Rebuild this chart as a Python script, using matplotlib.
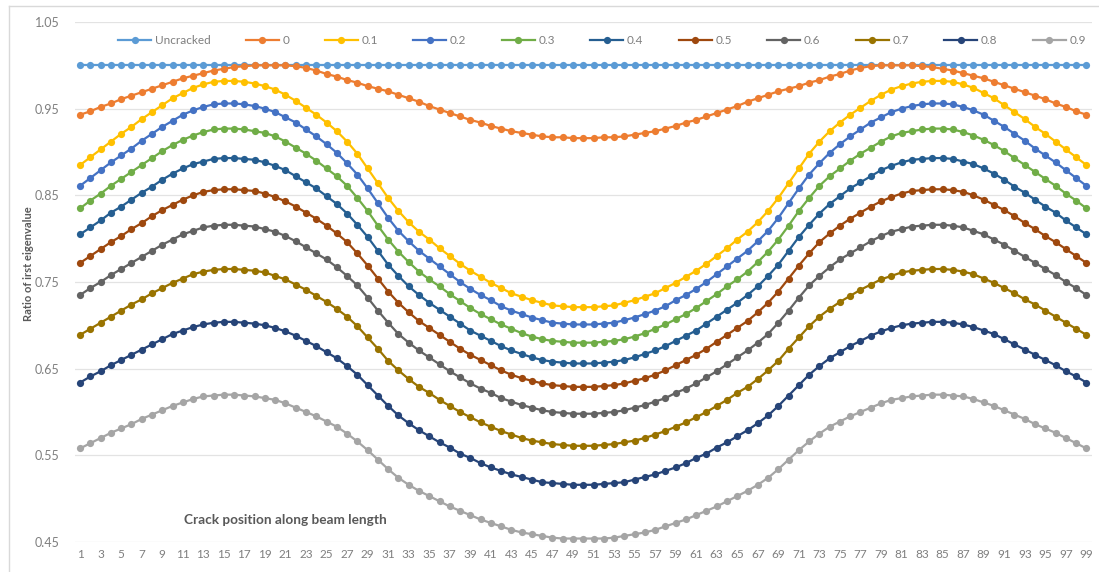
import matplotlib.pyplot as plt
from matplotlib.lines import Line2D

# ---- data ----
positions = list(range(1, 100))
tick_positions = list(range(1, 100, 2))
y_ticks = [0.45, 0.55, 0.65, 0.75, 0.85, 0.95, 1.05]

uncracked = [
    1.000, 1.000, 1.000, 1.000, 1.000, 1.000, 1.000, 1.000, 1.000, 1.000,
    1.000, 1.000, 1.000, 1.000, 1.000, 1.000, 1.000, 1.000, 1.000, 1.000,
    1.000, 1.000, 1.000, 1.000, 1.000, 1.000, 1.000, 1.000, 1.000, 1.000,
    1.000, 1.000, 1.000, 1.000, 1.000, 1.000, 1.000, 1.000, 1.000, 1.000,
    1.000, 1.000, 1.000, 1.000, 1.000, 1.000, 1.000, 1.000, 1.000, 1.000,
    1.000, 1.000, 1.000, 1.000, 1.000, 1.000, 1.000, 1.000, 1.000, 1.000,
    1.000, 1.000, 1.000, 1.000, 1.000, 1.000, 1.000, 1.000, 1.000, 1.000,
    1.000, 1.000, 1.000, 1.000, 1.000, 1.000, 1.000, 1.000, 1.000, 1.000,
    1.000, 1.000, 1.000, 1.000, 1.000, 1.000, 1.000, 1.000, 1.000, 1.000,
    1.000, 1.000, 1.000, 1.000, 1.000, 1.000, 1.000, 1.000, 1.000,
]

depth_00 = [
    0.943, 0.947, 0.952, 0.956, 0.961, 0.965, 0.969, 0.973, 0.977, 0.981,
    0.985, 0.988, 0.991, 0.994, 0.996, 0.998, 0.999, 1.000, 1.000, 1.000,
    1.000, 0.999, 0.997, 0.994, 0.990, 0.987, 0.983, 0.980, 0.976, 0.973,
    0.970, 0.966, 0.962, 0.958, 0.953, 0.949, 0.945, 0.941, 0.937, 0.934,
    0.930, 0.927, 0.924, 0.922, 0.920, 0.918, 0.917, 0.917, 0.916, 0.916,
    0.916, 0.917, 0.917, 0.918, 0.920, 0.922, 0.924, 0.927, 0.930, 0.934,
    0.937, 0.941, 0.945, 0.949, 0.953, 0.958, 0.962, 0.966, 0.970, 0.973,
    0.976, 0.980, 0.983, 0.987, 0.990, 0.994, 0.997, 0.999, 1.000, 1.000,
    1.000, 1.000, 0.999, 0.998, 0.996, 0.994, 0.991, 0.988, 0.985, 0.981,
    0.977, 0.973, 0.969, 0.965, 0.961, 0.956, 0.952, 0.947, 0.943,
]

depth_01 = [
    0.885, 0.894, 0.903, 0.912, 0.921, 0.929, 0.938, 0.946, 0.954, 0.962,
    0.968, 0.974, 0.978, 0.981, 0.982, 0.982, 0.981, 0.979, 0.976, 0.972,
    0.966, 0.959, 0.951, 0.943, 0.934, 0.924, 0.912, 0.898, 0.881, 0.864,
    0.847, 0.832, 0.819, 0.808, 0.799, 0.789, 0.780, 0.771, 0.763, 0.756,
    0.749, 0.743, 0.737, 0.733, 0.729, 0.726, 0.723, 0.722, 0.721, 0.721,
    0.721, 0.722, 0.723, 0.726, 0.729, 0.733, 0.737, 0.743, 0.749, 0.756,
    0.763, 0.771, 0.780, 0.789, 0.799, 0.808, 0.819, 0.832, 0.847, 0.864,
    0.881, 0.898, 0.912, 0.924, 0.934, 0.943, 0.951, 0.959, 0.966, 0.972,
    0.976, 0.979, 0.981, 0.982, 0.982, 0.981, 0.978, 0.974, 0.968, 0.962,
    0.954, 0.946, 0.938, 0.929, 0.921, 0.912, 0.903, 0.894, 0.885,
]

depth_02 = [
    0.861, 0.870, 0.879, 0.888, 0.896, 0.904, 0.913, 0.921, 0.929, 0.936,
    0.943, 0.948, 0.952, 0.955, 0.956, 0.956, 0.955, 0.953, 0.950, 0.946,
    0.940, 0.934, 0.926, 0.918, 0.909, 0.899, 0.887, 0.874, 0.858, 0.841,
    0.824, 0.809, 0.797, 0.786, 0.777, 0.768, 0.759, 0.750, 0.742, 0.735,
    0.729, 0.722, 0.717, 0.713, 0.709, 0.706, 0.703, 0.702, 0.701, 0.701,
    0.701, 0.702, 0.703, 0.706, 0.709, 0.713, 0.717, 0.722, 0.729, 0.735,
    0.742, 0.750, 0.759, 0.768, 0.777, 0.786, 0.797, 0.809, 0.824, 0.841,
    0.858, 0.874, 0.887, 0.899, 0.909, 0.918, 0.926, 0.934, 0.940, 0.946,
    0.950, 0.953, 0.955, 0.956, 0.956, 0.955, 0.952, 0.948, 0.943, 0.936,
    0.929, 0.921, 0.913, 0.904, 0.896, 0.888, 0.879, 0.870, 0.861,
]

depth_03 = [
    0.835, 0.844, 0.852, 0.861, 0.869, 0.877, 0.885, 0.893, 0.901, 0.908,
    0.914, 0.919, 0.923, 0.926, 0.927, 0.927, 0.926, 0.924, 0.922, 0.918,
    0.912, 0.905, 0.898, 0.890, 0.881, 0.872, 0.861, 0.847, 0.832, 0.815,
    0.799, 0.785, 0.773, 0.762, 0.753, 0.745, 0.736, 0.728, 0.720, 0.713,
    0.707, 0.701, 0.696, 0.691, 0.687, 0.684, 0.682, 0.681, 0.680, 0.680,
    0.680, 0.681, 0.682, 0.684, 0.687, 0.691, 0.696, 0.701, 0.707, 0.713,
    0.720, 0.728, 0.736, 0.745, 0.753, 0.762, 0.773, 0.785, 0.799, 0.815,
    0.832, 0.847, 0.861, 0.872, 0.881, 0.890, 0.898, 0.905, 0.912, 0.918,
    0.922, 0.924, 0.926, 0.927, 0.927, 0.926, 0.923, 0.919, 0.914, 0.908,
    0.901, 0.893, 0.885, 0.877, 0.869, 0.861, 0.852, 0.844, 0.835,
]

depth_04 = [
    0.805, 0.813, 0.821, 0.830, 0.837, 0.845, 0.853, 0.860, 0.868, 0.875,
    0.881, 0.886, 0.889, 0.892, 0.893, 0.893, 0.892, 0.891, 0.888, 0.884,
    0.879, 0.872, 0.865, 0.858, 0.849, 0.840, 0.829, 0.816, 0.802, 0.786,
    0.770, 0.757, 0.745, 0.735, 0.726, 0.718, 0.710, 0.702, 0.694, 0.688,
    0.682, 0.676, 0.671, 0.667, 0.663, 0.660, 0.658, 0.657, 0.656, 0.656,
    0.656, 0.657, 0.658, 0.660, 0.663, 0.667, 0.671, 0.676, 0.682, 0.688,
    0.694, 0.702, 0.710, 0.718, 0.726, 0.735, 0.745, 0.757, 0.770, 0.786,
    0.802, 0.816, 0.829, 0.840, 0.849, 0.858, 0.865, 0.872, 0.879, 0.884,
    0.888, 0.891, 0.892, 0.893, 0.893, 0.892, 0.889, 0.886, 0.881, 0.875,
    0.868, 0.860, 0.853, 0.845, 0.837, 0.830, 0.821, 0.813, 0.805,
]

depth_05 = [
    0.772, 0.780, 0.788, 0.796, 0.803, 0.811, 0.818, 0.826, 0.833, 0.839,
    0.845, 0.850, 0.854, 0.856, 0.857, 0.857, 0.856, 0.855, 0.852, 0.848,
    0.843, 0.837, 0.830, 0.823, 0.815, 0.806, 0.796, 0.783, 0.769, 0.754,
    0.739, 0.726, 0.715, 0.705, 0.697, 0.689, 0.681, 0.673, 0.666, 0.660,
    0.654, 0.648, 0.643, 0.639, 0.636, 0.633, 0.631, 0.630, 0.629, 0.629,
    0.629, 0.630, 0.631, 0.633, 0.636, 0.639, 0.643, 0.648, 0.654, 0.660,
    0.666, 0.673, 0.681, 0.689, 0.697, 0.705, 0.715, 0.726, 0.739, 0.754,
    0.769, 0.783, 0.796, 0.806, 0.815, 0.823, 0.830, 0.837, 0.843, 0.848,
    0.852, 0.855, 0.856, 0.857, 0.857, 0.856, 0.854, 0.850, 0.845, 0.839,
    0.833, 0.826, 0.818, 0.811, 0.803, 0.796, 0.788, 0.780, 0.772,
]

depth_06 = [
    0.735, 0.743, 0.750, 0.758, 0.765, 0.772, 0.779, 0.786, 0.793, 0.799,
    0.805, 0.809, 0.813, 0.815, 0.816, 0.816, 0.815, 0.814, 0.811, 0.808,
    0.803, 0.797, 0.790, 0.783, 0.776, 0.767, 0.757, 0.746, 0.732, 0.717,
    0.703, 0.690, 0.680, 0.671, 0.663, 0.655, 0.647, 0.640, 0.633, 0.627,
    0.622, 0.616, 0.612, 0.608, 0.605, 0.602, 0.600, 0.599, 0.598, 0.598,
    0.598, 0.599, 0.600, 0.602, 0.605, 0.608, 0.612, 0.616, 0.622, 0.627,
    0.633, 0.640, 0.647, 0.655, 0.663, 0.671, 0.680, 0.690, 0.703, 0.717,
    0.732, 0.746, 0.757, 0.767, 0.776, 0.783, 0.790, 0.797, 0.803, 0.808,
    0.811, 0.814, 0.815, 0.816, 0.816, 0.815, 0.813, 0.809, 0.805, 0.799,
    0.793, 0.786, 0.779, 0.772, 0.765, 0.758, 0.750, 0.743, 0.735,
]

depth_07 = [
    0.689, 0.696, 0.703, 0.710, 0.717, 0.724, 0.730, 0.737, 0.743, 0.749,
    0.754, 0.759, 0.762, 0.764, 0.765, 0.765, 0.764, 0.763, 0.761, 0.757,
    0.753, 0.747, 0.741, 0.734, 0.727, 0.719, 0.710, 0.699, 0.686, 0.673,
    0.659, 0.648, 0.638, 0.629, 0.622, 0.614, 0.607, 0.600, 0.594, 0.588,
    0.583, 0.578, 0.574, 0.570, 0.567, 0.565, 0.563, 0.562, 0.561, 0.561,
    0.561, 0.562, 0.563, 0.565, 0.567, 0.570, 0.574, 0.578, 0.583, 0.588,
    0.594, 0.600, 0.607, 0.614, 0.622, 0.629, 0.638, 0.648, 0.659, 0.673,
    0.686, 0.699, 0.710, 0.719, 0.727, 0.734, 0.741, 0.747, 0.753, 0.757,
    0.761, 0.763, 0.764, 0.765, 0.765, 0.764, 0.762, 0.759, 0.754, 0.749,
    0.743, 0.737, 0.730, 0.724, 0.717, 0.710, 0.703, 0.696, 0.689,
]

depth_08 = [
    0.634, 0.641, 0.647, 0.654, 0.660, 0.666, 0.672, 0.678, 0.684, 0.690,
    0.694, 0.698, 0.701, 0.703, 0.704, 0.704, 0.703, 0.702, 0.700, 0.697,
    0.693, 0.688, 0.682, 0.676, 0.669, 0.662, 0.653, 0.643, 0.631, 0.619,
    0.607, 0.596, 0.587, 0.579, 0.572, 0.565, 0.559, 0.552, 0.547, 0.541,
    0.536, 0.532, 0.528, 0.525, 0.522, 0.519, 0.518, 0.517, 0.516, 0.516,
    0.516, 0.517, 0.518, 0.519, 0.522, 0.525, 0.528, 0.532, 0.536, 0.541,
    0.547, 0.552, 0.559, 0.565, 0.572, 0.579, 0.587, 0.596, 0.607, 0.619,
    0.631, 0.643, 0.653, 0.662, 0.669, 0.676, 0.682, 0.688, 0.693, 0.697,
    0.700, 0.702, 0.703, 0.704, 0.704, 0.703, 0.701, 0.698, 0.694, 0.690,
    0.684, 0.678, 0.672, 0.666, 0.660, 0.654, 0.647, 0.641, 0.634,
]

depth_09 = [
    0.558, 0.564, 0.570, 0.576, 0.581, 0.586, 0.592, 0.597, 0.602, 0.607,
    0.611, 0.615, 0.618, 0.619, 0.620, 0.620, 0.619, 0.618, 0.616, 0.614,
    0.610, 0.605, 0.600, 0.595, 0.589, 0.583, 0.575, 0.566, 0.556, 0.545,
    0.534, 0.524, 0.516, 0.509, 0.503, 0.497, 0.491, 0.486, 0.481, 0.476,
    0.472, 0.468, 0.464, 0.461, 0.459, 0.457, 0.455, 0.454, 0.454, 0.454,
    0.454, 0.454, 0.455, 0.457, 0.459, 0.461, 0.464, 0.468, 0.472, 0.476,
    0.481, 0.486, 0.491, 0.497, 0.503, 0.509, 0.516, 0.524, 0.534, 0.545,
    0.556, 0.566, 0.575, 0.583, 0.589, 0.595, 0.600, 0.605, 0.610, 0.614,
    0.616, 0.618, 0.619, 0.620, 0.620, 0.619, 0.618, 0.615, 0.611, 0.607,
    0.602, 0.597, 0.592, 0.586, 0.581, 0.576, 0.570, 0.564, 0.558,
]

series_labels = ["Uncracked", "0", "0.1", "0.2", "0.3", "0.4",
                 "0.5", "0.6", "0.7", "0.8", "0.9"]
series_values = [uncracked, depth_00, depth_01, depth_02, depth_03, depth_04,
                 depth_05, depth_06, depth_07, depth_08, depth_09]
series_colors = ["#5B9BD5", "#ED7D31", "#FFC000", "#4472C4", "#70AD47", "#255E91",
                 "#9E480E", "#636363", "#997300", "#264478", "#A5A5A5"]

# ---- figure ----
plt.rcParams["font.family"] = ["Lato", "DejaVu Sans"]
W, H = 1099, 572
fig = plt.figure(figsize=(W / 100, H / 100), dpi=100)
ax = fig.add_axes([75 / W, 30 / H, 1016.5 / W, 520 / H])

handles = []
for label, values, color in zip(series_labels, series_values, series_colors):
    line, = ax.plot(positions, values, color=color, lw=1.6,
                    marker="o", markersize=5.2, markeredgewidth=0,
                    label=label)
    handles.append(line)

ax.set_xlim(0.5, 99.5)
ax.set_ylim(0.45, 1.05)
ax.set_yticks(y_ticks)
ax.set_yticklabels([f"{v:.2f}" for v in y_ticks])
ax.set_xticks(tick_positions)
ax.set_xticklabels([str(p) for p in tick_positions])
ax.tick_params(axis="y", length=0, pad=11, labelsize=9, labelcolor="#7f7f7f")
ax.tick_params(axis="x", length=0, pad=5, labelsize=8.5, labelcolor="#7f7f7f")
ax.grid(axis="y", color="#e3e3e3", lw=0.9)
ax.set_axisbelow(True)
for side in ["top", "right", "left", "bottom"]:
    ax.spines[side].set_visible(False)

fig.text(28 / W, 1 - 264 / H, "Ratio of irst eigenvalue", rotation=90,
         ha="center", va="center", fontsize=8, fontweight="bold", color="#595959")
fig.text(285 / W, 1 - 520 / H, "Crack position along beam length",
         ha="center", va="center", fontsize=9.8, fontweight="bold", color="#595959")

fig.legend(handles=handles, labels=series_labels, ncol=11, loc="center",
           bbox_to_anchor=(602 / W, 1 - 41 / H), frameon=False,
           fontsize=8.5, handlelength=2.8, handletextpad=0.3,
           columnspacing=3.0, labelcolor="#7f7f7f")

# chart area border
fig.add_artist(Line2D([9 / W, 9 / W], [0, 1 - 6 / H], transform=fig.transFigure,
                      color="#d9d9d9", lw=1))
fig.add_artist(Line2D([9 / W, 1], [1 - 6 / H, 1 - 6 / H], transform=fig.transFigure,
                      color="#d9d9d9", lw=1))

fig.savefig("out.png", dpi=100)
